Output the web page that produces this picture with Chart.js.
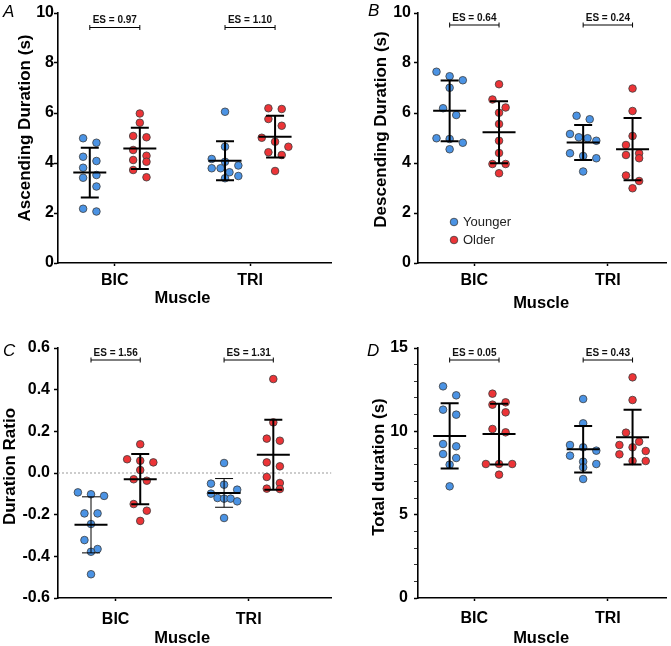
<!DOCTYPE html>
<html>
<head>
<meta charset="utf-8">
<script src="https://cdn.jsdelivr.net/npm/chart.js@4/dist/chart.umd.min.js"></script>
<style>
  body { margin: 0; background: #fff; }
  #wrap { position: relative; width: 671px; height: 646px; }
  canvas { position: absolute; }
</style>
</head>
<body>
<div id="wrap">
  <canvas id="chartA" width="336" height="323" style="left:0;top:0"></canvas>
  <canvas id="chartB" width="335" height="323" style="left:336px;top:0"></canvas>
  <canvas id="chartC" width="336" height="323" style="left:0;top:323px"></canvas>
  <canvas id="chartD" width="335" height="323" style="left:336px;top:323px"></canvas>
</div>
<script>
const muscles = ["BIC", "TRI"];
const groupNames = ["Younger", "Older"];
const xTitle = "Muscle";

// A - ascending duration (s)
const ascYoungBIC = [4.99, 4.81, 4.25, 4.08, 3.81, 3.52, 3.41, 3.06, 2.17, 2.06];
const ascOlderBIC = [5.98, 5.61, 5.08, 5.03, 4.52, 4.29, 4.12, 4.05, 3.72, 3.43];
const ascYoungTRI = [6.05, 4.65, 4.16, 4.05, 3.90, 3.79, 3.79, 3.63, 3.48, 3.39];
const ascOlderTRI = [6.19, 6.16, 5.76, 5.49, 5.01, 4.85, 4.65, 4.43, 4.32, 3.68];
const ascES = ["ES = 0.97", "ES = 1.10"];

// B - descending duration (s)
const descYoungBIC = [7.65, 7.47, 7.31, 7.01, 6.19, 5.92, 4.99, 4.96, 4.81, 4.55];
const descOlderBIC = [7.15, 6.54, 6.22, 6.01, 5.56, 4.89, 4.40, 3.96, 3.96, 3.59];
const descYoungTRI = [5.89, 5.75, 5.16, 5.03, 4.99, 4.89, 4.39, 4.28, 4.19, 3.66];
const descOlderTRI = [6.98, 6.08, 5.08, 4.72, 4.39, 4.32, 4.19, 3.50, 3.28, 2.99];
const descES = ["ES = 0.64", "ES = 0.24"];

// C - duration ratio
const ratioYoungBIC = [-0.093, -0.102, -0.110, -0.194, -0.194, -0.245, -0.322, -0.365, -0.378, -0.486];
const ratioOlderBIC = [0.138, 0.066, 0.059, 0.051, 0.014, -0.030, -0.037, -0.149, -0.181, -0.230];
const ratioYoungTRI = [0.048, -0.051, -0.056, -0.080, -0.099, -0.120, -0.123, -0.123, -0.136, -0.216];
const ratioOlderTRI = [0.451, 0.243, 0.165, 0.155, 0.051, 0.032, -0.019, -0.048, -0.075, -0.077];
const ratioES = ["ES = 1.56", "ES = 1.31"];

// D - total duration (s)
const totalYoungBIC = [12.70, 12.16, 11.30, 11.00, 9.24, 9.10, 8.64, 8.40, 8.00, 6.70];
const totalOlderBIC = [12.26, 11.74, 11.60, 11.14, 10.14, 9.94, 8.04, 8.04, 8.04, 7.40];
const totalYoungTRI = [11.94, 10.48, 9.18, 9.04, 8.84, 8.54, 8.18, 8.04, 7.84, 7.14];
const totalOlderTRI = [13.24, 11.88, 9.92, 9.38, 9.18, 9.04, 8.82, 8.62, 8.22, 8.22];
const totalES = ["ES = 0.05", "ES = 0.43"];

const BLUE = "#4b93e4";
const RED = "#ec3437";
const FONT = "'Liberation Sans', Arial, sans-serif";
const OFF = 0.185; // group offset from category centre

function meanSd(a) {
  const m = a.reduce((s, v) => s + v, 0) / a.length;
  const sd = Math.sqrt(a.reduce((s, v) => s + (v - m) ** 2, 0) / (a.length - 1));
  return [m, sd];
}

// simple prism-like swarm: points close in y share a row and spread sideways
function swarm(values, center, yRange) {
  const yTol = 9 * yRange / 250;
  const pxToX = 1 / 135;
  const order = values.map((v, i) => i).sort((a, b) => values[b] - values[a]);
  const rows = [];
  order.forEach((i) => {
    const row = rows[rows.length - 1];
    if (row && values[row[0]] - values[i] <= yTol) row.push(i);
    else rows.push([i]);
  });
  const pts = [];
  rows.forEach((row) => {
    const n = row.length;
    const gap = n > 1 ? Math.min(13.3, 26.6 / (n - 1)) : 0;
    row.forEach((i, k) => {
      pts.push({ x: center + (k - (n - 1) / 2) * gap * pxToX, y: values[i] });
    });
  });
  return pts;
}

const deco = {
  id: "deco",
  beforeDatasetsDraw(chart, args, o) {
    if (!o.zeroLine) return;
    const { ctx, chartArea: a, scales: { y } } = chart;
    const py = y.getPixelForValue(0);
    ctx.save();
    ctx.strokeStyle = "#9a9a9a";
    ctx.lineWidth = 1;
    ctx.setLineDash([2, 2]);
    ctx.beginPath();
    ctx.moveTo(a.left, py);
    ctx.lineTo(a.right, py);
    ctx.stroke();
    ctx.restore();
  },
  afterDatasetsDraw(chart, args, o) {
    const { ctx, chartArea: a, scales: { x, y } } = chart;
    ctx.save();
    ctx.strokeStyle = "#000";
    o.groups.forEach((g) => {
      const [m, sd] = meanSd(g.values);
      const px = x.getPixelForValue(g.center);
      const pm = y.getPixelForValue(m);
      const pt = y.getPixelForValue(m + sd);
      const pb = y.getPixelForValue(m - sd);
      ctx.lineWidth = g.thin ? 1 : 2;
      ctx.beginPath();
      ctx.moveTo(px, pt); ctx.lineTo(px, pb);
      ctx.moveTo(px - 9, pt); ctx.lineTo(px + 9, pt);
      ctx.moveTo(px - 9, pb); ctx.lineTo(px + 9, pb);
      ctx.stroke();
      ctx.lineWidth = 2;
      ctx.beginPath();
      ctx.moveTo(px - 16.5, pm); ctx.lineTo(px + 16.5, pm);
      ctx.stroke();
    });

    // effect size brackets
    ctx.lineWidth = 1;
    ctx.fillStyle = "#111";
    ctx.font = "bold 10px " + FONT;
    ctx.textAlign = "center";
    ctx.textBaseline = "alphabetic";
    o.es.forEach((label, i) => {
      const x1 = x.getPixelForValue(i + 1 - OFF);
      const x2 = x.getPixelForValue(i + 1 + OFF);
      const yb = a.top + o.esOffset;
      ctx.beginPath();
      ctx.moveTo(x1, yb); ctx.lineTo(x2, yb);
      ctx.moveTo(x1, yb - 2.5); ctx.lineTo(x1, yb + 2.5);
      ctx.moveTo(x2, yb - 2.5); ctx.lineTo(x2, yb + 2.5);
      ctx.stroke();
      ctx.fillText(label, (x1 + x2) / 2, yb - 4.5);
    });

    if (o.legend) {
      ctx.font = "13px " + FONT;
      ctx.textAlign = "left";
      ctx.textBaseline = "middle";
      [BLUE, RED].forEach((c, i) => {
        const lx = a.left + 36, ly = a.top + 209 + i * 18;
        ctx.beginPath();
        ctx.arc(lx, ly, 3.8, 0, Math.PI * 2);
        ctx.fillStyle = c;
        ctx.fill();
        ctx.strokeStyle = "#3c3c3c";
        ctx.lineWidth = 0.8;
        ctx.stroke();
        ctx.fillStyle = "#222";
        ctx.fillText(groupNames[i], lx + 9, ly + 0.5);
      });
    }
    ctx.restore();
  },
  afterDraw(chart, args, o) {
    const { ctx, chartArea: a, scales: { x } } = chart;
    ctx.save();
    ctx.fillStyle = "#000";
    ctx.font = "italic 17px " + FONT;
    ctx.textAlign = "left";
    ctx.textBaseline = "alphabetic";
    ctx.fillText(o.letter, o.letterX, o.letterY);

    // axis titles (prism centres them a little off the axis middle)
    ctx.textAlign = "center";
    ctx.textBaseline = "middle";
    ctx.font = "bold 16.5px " + FONT;
    ctx.fillText(xTitle, x.getPixelForValue(1.5), o.xTitleY);
    ctx.font = "bold 17px " + FONT;
    ctx.translate(o.yTitleX, (a.top + a.bottom) / 2 + o.yTitleShift);
    ctx.rotate(-Math.PI / 2);
    ctx.fillText(o.yTitle, 0, 0);
    ctx.restore();
  },
};

function makePanel(id, p) {
  const yRange = p.yMax - p.yMin;
  const youngPts = swarm(p.young[0], 1 - OFF, yRange).concat(swarm(p.young[1], 2 - OFF, yRange));
  const olderPts = swarm(p.older[0], 1 + OFF, yRange).concat(swarm(p.older[1], 2 + OFF, yRange));
  const tickFont = { family: FONT, size: 16, weight: "bold" };

  new Chart(document.getElementById(id), {
    type: "scatter",
    data: {
      datasets: [
        { label: groupNames[0], data: youngPts, backgroundColor: BLUE, borderColor: "#3c3c3c",
          borderWidth: 0.8, pointRadius: 3.8 },
        { label: groupNames[1], data: olderPts, backgroundColor: RED, borderColor: "#3c3c3c",
          borderWidth: 0.8, pointRadius: 3.8 },
      ],
    },
    options: {
      responsive: false,
      animation: false,
      layout: { padding: { top: p.padTop, right: p.padRight, left: 0, bottom: 0 } },
      plugins: {
        legend: { display: false },
        tooltip: { enabled: false },
        deco: {
          letter: p.letter, letterX: p.letterX, letterY: p.letterY,
          es: p.es, esOffset: p.esOffset, legend: p.legend, zeroLine: p.zeroLine,
          yTitle: p.yTitle, yTitleX: p.yTitleX, yTitleShift: p.yTitleShift, xTitleY: p.xTitleY,
          groups: [
            { values: p.young[0], center: 1 - OFF, thin: p.thinYoung },
            { values: p.older[0], center: 1 + OFF },
            { values: p.young[1], center: 2 - OFF, thin: p.thinYoung },
            { values: p.older[1], center: 2 + OFF },
          ],
        },
      },
      scales: {
        x: {
          type: "linear",
          min: p.xMin,
          max: p.xMax,
          afterBuildTicks: (s) => { s.ticks = [{ value: 1 }, { value: 2 }]; },
          afterFit: (s) => { s.height = p.xAxisH; },
          ticks: { callback: (v) => muscles[v - 1], font: tickFont, color: "#000",
            padding: p.xTickPad, maxRotation: 0, autoSkip: false },
          grid: { drawOnChartArea: false, tickLength: 3, tickColor: "#000", tickWidth: 1.5 },
          border: { color: "#000", width: 1.6 },
        },
        y: {
          min: p.yMin,
          max: p.yMax,
          afterFit: (s) => { s.width = p.yAxisW; },
          ticks: { stepSize: p.yStep, callback: p.yFmt, font: tickFont, color: "#000",
            padding: p.yTickPad, autoSkip: false },
          grid: { drawOnChartArea: false, tickLength: 4, tickColor: "#000",
            tickWidth: p.tickWidth || 1.5 },
          border: { color: "#000", width: 1.6 },
        },
      },
    },
    plugins: [deco],
  });
}

makePanel("chartA", {
  letter: "A", letterX: 3, letterY: 17,
  young: [ascYoungBIC, ascYoungTRI], older: [ascOlderBIC, ascOlderTRI], es: ascES,
  yMin: 0, yMax: 10, yStep: 2, yFmt: (v) => String(v), yTitle: "Ascending Duration (s)",
  padTop: 13, padRight: 3, xAxisH: 60, yAxisW: 58, xMin: 0.58, xMax: 2.60,
  xTickPad: 5, yTickPad: 0, esOffset: 14.5,
  yTitleX: 25.7, yTitleShift: -10, xTitleY: 298.5,
});

makePanel("chartB", {
  letter: "B", letterX: 32, letterY: 16, legend: true,
  young: [descYoungBIC, descYoungTRI], older: [descOlderBIC, descOlderTRI], es: descES,
  yMin: 0, yMax: 10, yStep: 2, yFmt: (v) => String(v), yTitle: "Descending Duration (s)",
  padTop: 13, padRight: 2, xAxisH: 60, yAxisW: 82, xMin: 0.578, xMax: 2.437,
  xTickPad: 5, yTickPad: 3, esOffset: 12,
  yTitleX: 45, yTitleShift: -8.5, xTitleY: 303,
});

makePanel("chartC", {
  letter: "C", letterX: 3, letterY: 33, zeroLine: true, thinYoung: true,
  young: [ratioYoungBIC, ratioYoungTRI], older: [ratioOlderBIC, ratioOlderTRI], es: ratioES,
  yMin: -0.6, yMax: 0.6, yStep: 0.2, yFmt: (v) => v.toFixed(1), yTitle: "Duration Ratio",
  padTop: 25, padRight: 3, xAxisH: 48, yAxisW: 58, xMin: 0.567, xMax: 2.62,
  xTickPad: 9, yTickPad: 4, esOffset: 12,
  yTitleX: 10, yTitleShift: -6.5, xTitleY: 315,
});

makePanel("chartD", {
  letter: "D", letterX: 31, letterY: 33,
  young: [totalYoungBIC, totalYoungTRI], older: [totalOlderBIC, totalOlderTRI], es: totalES,
  yMin: 0, yMax: 15, yStep: 1, yFmt: (v) => (v % 5 === 0 ? String(v) : ""),
  tickWidth: (c) => (c.tick && c.tick.value % 5 === 0 ? 1.5 : 0.8),
  yTitle: "Total duration (s)",
  padTop: 25, padRight: 2, xAxisH: 48, yAxisW: 82, xMin: 0.578, xMax: 2.437,
  xTickPad: 8, yTickPad: 6, esOffset: 12,
  yTitleX: 43, yTitleShift: -6, xTitleY: 315,
});
</script>
</body>
</html>
